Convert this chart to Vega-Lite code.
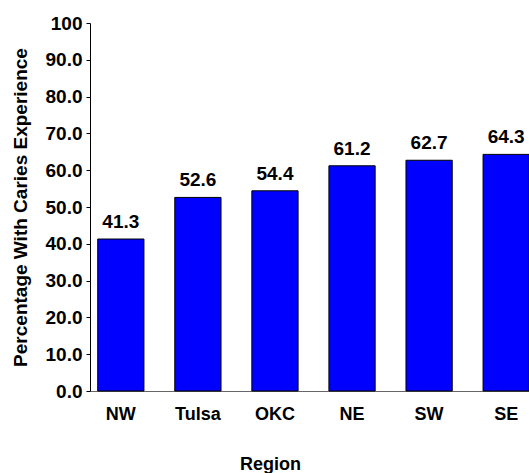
{
  "$schema": "https://vega.github.io/schema/vega-lite/v6.json",
  "width": 447,
  "height": 368,
  "autosize": {"type": "none"},
  "padding": {"left": 90, "top": 23, "right": 0, "bottom": 82},
  "background": "white",
  "config": {
    "view": {"stroke": null},
    "font": "Liberation Sans"
  },
  "data": {
    "values": [
      {"Region": "NW", "Pct": 41.3},
      {"Region": "Tulsa", "Pct": 52.6},
      {"Region": "OKC", "Pct": 54.4},
      {"Region": "NE", "Pct": 61.2},
      {"Region": "SW", "Pct": 62.7},
      {"Region": "SE", "Pct": 64.3}
    ]
  },
  "encoding": {
    "x": {
      "field": "Region",
      "type": "nominal",
      "sort": null,
      "scale": {"paddingInner": 0.4, "paddingOuter": 0.1},
      "axis": {
        "title": "Region",
        "labelAngle": 0,
        "labelFont": "Liberation Sans",
        "labelFontWeight": "bold",
        "labelFontSize": 18,
        "labelColor": "#000",
        "labelPadding": 14,
        "ticks": false,
        "tickSize": 0,
        "domainColor": "#666",
        "domainWidth": 1,
        "titleFont": "Liberation Sans",
        "titleFontWeight": "bold",
        "titleFontSize": 18,
        "titleColor": "#000",
        "titleX": 180,
        "titleY": 78,
        "titleBaseline": "alphabetic",
        "titleAlign": "center"
      }
    },
    "y": {
      "field": "Pct",
      "type": "quantitative",
      "scale": {"domain": [0, 100], "nice": false},
      "axis": {
        "title": "Percentage With Caries Experience",
        "values": [0, 10, 20, 30, 40, 50, 60, 70, 80, 90, 100],
        "labelExpr": "datum.value == 100 ? '100' : format(datum.value, '.1f')",
        "grid": false,
        "labelFont": "Liberation Sans",
        "labelFontWeight": "bold",
        "labelFontSize": 19,
        "labelColor": "#000",
        "labelPadding": 4,
        "tickSize": 4,
        "tickColor": "#000",
        "domainColor": "#000",
        "titleFont": "Liberation Sans",
        "titleFontWeight": "bold",
        "titleFontSize": 19,
        "titleColor": "#000",
        "titleX": -70,
        "titleY": 184,
        "titleBaseline": "middle",
        "titleAlign": "center",
        "titleAngle": -90
      }
    }
  },
  "layer": [
    {
      "mark": {"type": "bar", "color": "#0000FF", "stroke": "#000", "strokeWidth": 1}
    },
    {
      "mark": {"type": "text", "baseline": "alphabetic", "dy": -11, "font": "Liberation Sans", "fontWeight": "bold", "fontSize": 19, "color": "#000"},
      "encoding": {
        "text": {"field": "Pct", "type": "quantitative", "format": ".1f"}
      }
    }
  ]
}
